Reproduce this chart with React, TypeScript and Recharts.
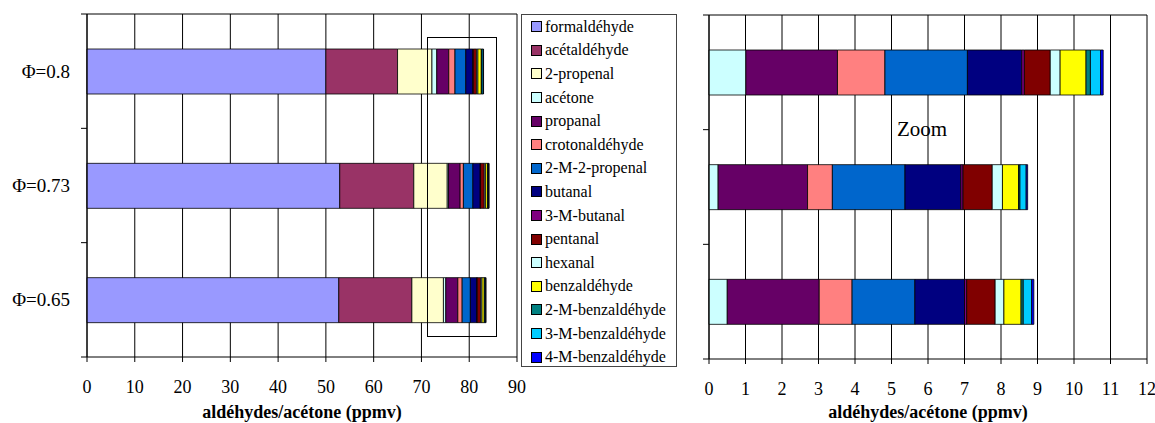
import React from "react";
import { BarChart, Bar, XAxis, YAxis, CartesianGrid } from "recharts";

const FONT = "'Liberation Serif', 'DejaVu Serif', serif";

// rows, top to bottom
const categories = ["Φ=0.8", "Φ=0.73", "Φ=0.65"];

const formaldehyde = [50.0, 52.9, 52.7];
const acetaldehyde = [15.0, 15.5, 15.3];
const propenal = [7.2, 7.0, 6.6];
const acetone = [1.01, 0.25, 0.5];
const propanal = [2.51, 2.45, 2.52];
const crotonaldehyde = [1.3, 0.68, 0.9];
const methylPropenal = [2.26, 1.99, 1.72];
const butanal = [1.49, 1.53, 1.36];
const methylButanal = [0.07, 0.06, 0.06];
const pentanal = [0.71, 0.8, 0.78];
const hexanal = [0.27, 0.28, 0.24];
const benzaldehyde = [0.71, 0.44, 0.47];
const m2Benzaldehyde = [0.12, 0.04, 0.06];
const m3Benzaldehyde = [0.28, 0.17, 0.23];
const m4Benzaldehyde = [0.07, 0.04, 0.06];

const seriesNames = [
  "formaldéhyde",
  "acétaldéhyde",
  "2-propenal",
  "acétone",
  "propanal",
  "crotonaldéhyde",
  "2-M-2-propenal",
  "butanal",
  "3-M-butanal",
  "pentanal",
  "hexanal",
  "benzaldéhyde",
  "2-M-benzaldéhyde",
  "3-M-benzaldéhyde",
  "4-M-benzaldéhyde",
];

const seriesValues = [
  formaldehyde,
  acetaldehyde,
  propenal,
  acetone,
  propanal,
  crotonaldehyde,
  methylPropenal,
  butanal,
  methylButanal,
  pentanal,
  hexanal,
  benzaldehyde,
  m2Benzaldehyde,
  m3Benzaldehyde,
  m4Benzaldehyde,
];

const seriesColors = [
  "#9999FF",
  "#993366",
  "#FFFFCC",
  "#CCFFFF",
  "#660066",
  "#FF8080",
  "#0066CC",
  "#000080",
  "#800080",
  "#800000",
  "#CCFFFF",
  "#FFFF00",
  "#008080",
  "#00CCFF",
  "#0000FF",
];

const leftTicks = [0, 10, 20, 30, 40, 50, 60, 70, 80, 90];
const rightTicks = [0, 1, 2, 3, 4, 5, 6, 7, 8, 9, 10, 11, 12];
const zoomStart = 3; // the zoom panel leaves out the three big ones
const axisTitle = "aldéhydes/acétone (ppmv)";

const rows = categories.map((cat, i) => {
  const row: Record<string, string | number> = { cat };
  seriesValues.forEach((vals, k) => {
    row[`s${k}`] = vals[i];
  });
  return row;
});

// category ticks sit on the band edges, not the centres
function makeYTick(band: number, showLabel: boolean, margin: number) {
  return (props: any) => {
    const { x, y, payload, index } = props;
    const edges = [y + band / 2];
    if (index === 0) edges.push(y - band / 2);
    return (
      <g>
        {edges.map((e, i) => (
          <line key={i} x1={x + margin} x2={x + margin + 6} y1={e} y2={e} stroke="#000" />
        ))}
        {showLabel && (
          <text
            x={x}
            y={y}
            textAnchor="end"
            dominantBaseline="central"
            style={{ fontFamily: FONT, fontSize: 19 }}
            fill="#000"
          >
            {payload.value}
          </text>
        )}
      </g>
    );
  };
}

const tickStyle = { fill: "#000", fontSize: 18, fontFamily: FONT };
const titleStyle = { fill: "#000", fontSize: 18, fontWeight: "bold", fontFamily: FONT };

function Panel({
  width,
  top,
  bottom,
  yWidth,
  marginRight,
  ticks,
  from,
  showLabels,
}: {
  width: number;
  top: number;
  bottom: number;
  yWidth: number;
  marginRight: number;
  ticks: number[];
  from: number;
  showLabels: boolean;
}) {
  const band = (bottom - top) / categories.length;
  const tickMargin = showLabels ? 11 : 0;
  return (
    <BarChart
      width={width}
      height={423}
      data={rows}
      layout="vertical"
      margin={{ top, right: marginRight, bottom: 0, left: 0 }}
      style={{ fontFamily: FONT }}
    >
      <CartesianGrid
        stroke="#000"
        horizontal={true}
        vertical={true}
        horizontalPoints={[top]}
      />
      <XAxis
        type="number"
        domain={[ticks[0], ticks[ticks.length - 1]]}
        ticks={ticks}
        interval={0}
        height={423 - bottom}
        tick={tickStyle}
        tickSize={5}
        tickMargin={18}
        axisLine={{ stroke: "#000" }}
        tickLine={{ stroke: "#000" }}
        label={{ value: axisTitle, position: "insideBottom", offset: 5, style: titleStyle }}
      />
      <YAxis
        type="category"
        dataKey="cat"
        width={yWidth}
        tickSize={6}
        tickMargin={tickMargin}
        tickLine={false}
        axisLine={{ stroke: "#000" }}
        tick={makeYTick(band, showLabels, tickMargin)}
      />
      {seriesValues.slice(from).map((_, j) => {
        const k = j + from;
        return (
          <Bar
            key={k}
            dataKey={`s${k}`}
            name={seriesNames[k]}
            stackId="a"
            fill={seriesColors[k]}
            stroke="#000"
            strokeWidth={0.8}
            barSize={45}
            isAnimationActive={false}
          />
        );
      })}
    </BarChart>
  );
}

function Legend() {
  return (
    <div
      style={{
        position: "absolute",
        left: 521,
        top: 14,
        width: 154,
        height: 351,
        border: "1px solid #444",
        boxSizing: "content-box",
        fontFamily: FONT,
        fontSize: 16,
        color: "#000",
        background: "#fff",
      }}
    >
      {seriesNames.map((name, k) => (
        <div
          key={name}
          style={{ display: "flex", alignItems: "center", height: 23.6, paddingLeft: 9 }}
        >
          <span
            style={{
              width: 9,
              height: 9,
              border: "1px solid #000",
              background: seriesColors[k],
              marginRight: 3,
              flex: "none",
            }}
          />
          <span style={{ whiteSpace: "nowrap" }}>{name}</span>
        </div>
      ))}
    </div>
  );
}

export default function App() {
  return (
    <div
      style={{
        position: "absolute",
        left: 0,
        top: 0,
        width: 1155,
        height: 423,
        background: "#fff",
        overflow: "hidden",
        fontFamily: FONT,
      }}
    >
      <div style={{ position: "absolute", left: 0, top: 0 }}>
        <Panel
          width={532}
          top={14}
          bottom={357}
          yWidth={87}
          marginRight={15}
          ticks={leftTicks}
          from={0}
          showLabels={true}
        />
      </div>
      {/* zoom frame round the small aldehydes */}
      <div
        style={{
          position: "absolute",
          left: 427,
          top: 37,
          width: 70,
          height: 300,
          border: "1px solid #000",
          boxSizing: "border-box",
        }}
      />
      <Legend />
      <div style={{ position: "absolute", left: 690, top: 0 }}>
        <Panel
          width={465}
          top={15}
          bottom={359}
          yWidth={19}
          marginRight={8}
          ticks={rightTicks}
          from={zoomStart}
          showLabels={false}
        />
      </div>
      <div
        style={{
          position: "absolute",
          left: 897,
          top: 117,
          fontFamily: FONT,
          fontSize: 21,
          color: "#000",
        }}
      >
        Zoom
      </div>
    </div>
  );
}
